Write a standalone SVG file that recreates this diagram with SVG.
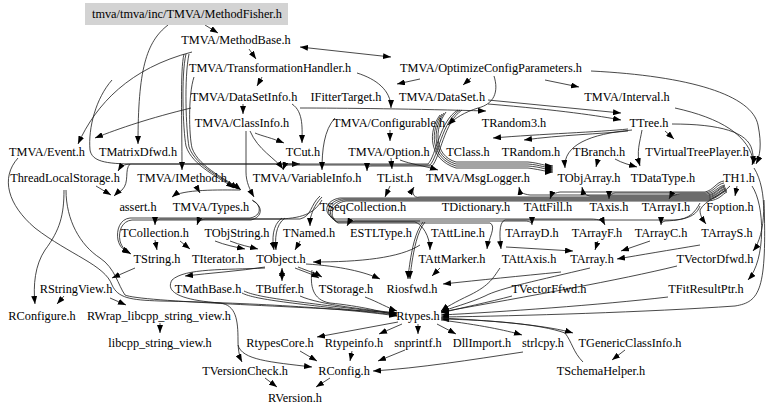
<svg xmlns="http://www.w3.org/2000/svg" width="768" height="414" viewBox="0 0 768 414">
<defs>
<marker id="ah" viewBox="0 0 8 6" markerWidth="8" markerHeight="6" refX="8" refY="3" orient="auto" markerUnits="userSpaceOnUse"><path d="M0,0 L8,3 L0,6 z" fill="#000"/></marker>
<marker id="as" viewBox="0 0 8 6" markerWidth="8" markerHeight="6" refX="8" refY="3" orient="auto-start-reverse" markerUnits="userSpaceOnUse"><path d="M0,0 L8,3 L0,6 z" fill="#000"/></marker>
</defs>
<style>
.e path{fill:none;stroke:#1a1a1a;stroke-width:0.8;marker-end:url(#ah)}
.e path.b{marker-start:url(#as)}
text{font-family:"Liberation Serif","Times New Roman",serif;font-size:12.3px;text-anchor:middle;fill:#000}
</style>
<rect width="768" height="414" fill="#fff"/>
<g class="e" id="edges">
<path d="M205,25 L218,33"/>
<path d="M168,25 C146,42 138,70 138,144"/>
<path d="M249,49 L256,59"/>
<path class="b" d="M300,47 L391,57"/>
<path d="M192,52 C130,68 96,104 78,144"/>
<path d="M184,54 C180,70 182,120 182,170"/>
<path d="M186,54 C181,75 183,130 186,146 C192,166 222,179 234,188"/>
<path d="M189,54 C184,78 186,130 189,147 C196,167 226,180 238,189"/>
<path d="M194,77 C188,95 189,135 192,148 C199,168 230,181 241,190"/>
<path d="M262,77 L257,86"/>
<path d="M357,73 C376,79 391,90 391,108"/>
<path d="M420,79 L397,84"/>
<path d="M471,78 L463,85"/>
<path d="M545,80 L579,87"/>
<path d="M591,71 C690,76 752,95 758,125 C762,145 760,156 756,164"/>
<path d="M243,104 L243,114"/>
<path d="M191,108 C150,118 120,128 95,138"/>
<path d="M292,104 C304,112 302,130 302,143"/>
<path d="M300,108 C340,108 420,109 486,111"/>
<path d="M488,100 L621,113"/>
<path d="M488,104 C560,110 600,116 621,120"/>
<path d="M675,108 C720,118 750,135 754,164"/>
<path d="M672,124 C720,124 748,132 752,150 C754,158 753,162 752,165"/>
<path d="M665,131 L674,139"/>
<path d="M628,129 C600,132 540,134 493,138"/>
<path d="M628,131 C600,134 560,135 524,140"/>
<path d="M632,130 C590,134 563,145 565,168"/>
<path d="M642,130 C640,142 636,152 640,166"/>
<path d="M598,159 L596,167"/>
<path d="M615,159 C622,163 630,165 637,167"/>
<path d="M390,130 L390,141"/>
<path d="M112,80 C96,98 88,128 90,150 C92,161 104,164 135,164 L300,164"/>
<path d="M458,110 C440,120 436,156 428,164 L132,164 C124,164 121,166 118,171"/>
<path d="M460,110 C442,121 438,157 430,165 L290,165 C285,165 284,167 283,170"/>
<path d="M462,110 C444,122 440,158 432,166 L372,166 C368,166 367,168 367,171"/>
<path d="M494,76 C499,92 494,104 478,108 C465,112 455,118 448,125"/>
<path d="M335,118 C324,130 322,150 322,170"/>
<path d="M391,158 L392,169"/>
<path d="M400,160 C410,164 425,166 438,170"/>
<path d="M255,133 C262,136 272,138 284,143"/>
<path d="M250,131 C258,150 275,158 283,169"/>
<path d="M246,131 L246,172 C246,182 250,190 254,197"/>
<path d="M446,112 C434,128 434,156 456,162 L528,162 C540,163 544,166 553,166"/>
<path d="M444,113 C432,129 432,157 456,164 L528,164 C541,165 545,168 553,168"/>
<path d="M442,114 C430,130 430,158 456,166 L528,166 C542,167 546,170 553,170"/>
<path d="M440,115 C428,131 428,159 456,168 L528,168 C543,170 547,172 553,172"/>
<path d="M130,164 C124,170 130,182 122,190 C118,193 116,194 114,196"/>
<path d="M96,186 L111,195"/>
<path d="M196,186 L200,193"/>
<path d="M240,190 C220,190 182,189 172,197"/>
<path d="M390,186 L385,197"/>
<path d="M724,181 C716,182 714,190 705,192 L560,192 C553,193 551,196 550,199"/>
<path d="M724,183 C717,184 715,191 706,193 L615,193 C610,194 609,196 609,199"/>
<path d="M725,185 C718,186 716,192 707,194 L680,194 C672,195 670,197 669,199"/>
<path d="M725,186 C719,187 717,193 708,195 L530,195 C522,194 520,192 519,187"/>
<path d="M725,187 C719,188 717,194 708,196 L590,196 C584,195 583,192 582,187"/>
<path d="M726,188 C720,189 718,195 708,197 L420,197 C412,199 412,190 414,187"/>
<path d="M726,189 C720,190 718,196 708,198 L340,198 C325,200 322,214 335,219 L590,219 C600,219 603,221 605,225"/>
<path d="M727,190 C721,191 719,197 708,199 L342,199 C327,201 324,215 336,221 L525,221 C530,221 532,223 532,225"/>
<path d="M727,191 C721,192 719,198 708,200 L344,200 C329,202 326,216 337,222 L415,222 C422,224 430,236 430,250"/>
<path d="M727,192 C722,194 720,200 708,201 L346,201 C331,203 328,217 338,223 L490,223 C497,226 488,240 487,249"/>
<path d="M700,203 C695,212 690,219 675,220 L505,220 C498,222 500,240 501,249"/>
<path d="M730,186 C722,195 705,200 700,210 C700,216 703,220 706,224"/>
<path d="M700,206 C697,214 690,220 665,221 C662,222 661,223 661,225"/>
<path d="M737,186 L735,196"/>
<path d="M754,168 C768,190 766,235 753,251"/>
<path d="M752,186 C765,205 766,260 748,280"/>
<path d="M252,200 C262,205 262,216 250,218 L130,218 C120,219 116,230 118,240 C120,248 124,250 130,253"/>
<path d="M253,201 C263,206 263,217 251,220 L132,220 C122,221 118,231 120,241 C122,248 126,251 131,254"/>
<path d="M320,196 C310,205 312,216 300,219 L205,219 C200,220 198,222 197,225"/>
<path d="M322,197 C313,206 312,214 310,219 L310,226"/>
<path d="M322,200 C315,212 305,218 280,219 L160,219 C156,220 155,222 155,225"/>
<path d="M420,221 L355,221 C350,222 348,224 347,226"/>
<path d="M155,240 L157,250"/>
<path d="M180,241 L190,249"/>
<path d="M215,241 C225,245 235,247 245,249"/>
<path d="M230,241 C240,245 250,247 258,249"/>
<path d="M300,241 L295,250"/>
<path d="M282,218 C272,225 272,240 274,250"/>
<path d="M285,218 C275,225 275,240 276,250"/>
<path d="M420,245 C400,258 360,262 313,262"/>
<path d="M265,267 C240,271 210,273 185,276"/>
<path class="b" d="M282,268 L282,281"/>
<path d="M295,268 C305,272 312,274 319,278"/>
<path d="M298,267 C308,271 315,273 322,277"/>
<path d="M306,264 C340,266 365,272 380,279"/>
<path d="M265,268 C225,270 185,268 172,280 C165,292 180,300 220,303 C236,305 238,320 238,340 C238,352 240,358 242,362"/>
<path d="M238,345 C242,360 270,362 312,367"/>
<path d="M312,270 C310,285 312,300 330,303 C360,306 385,312 397,316"/>
<path d="M242,293 C255,300 300,304 397,315"/>
<path d="M244,291 C258,298 300,302 397,314"/>
<path d="M300,296 C320,305 370,310 397,313"/>
<path d="M365,297 C378,302 388,308 397,311"/>
<path d="M440,268 L432,276"/>
<path d="M423,222 C415,232 412,250 410,262 C409,270 408,274 408,279"/>
<path d="M425,222 C417,232 414,250 412,262 C411,270 410,274 410,279"/>
<path d="M561,272 C520,276 480,280 443,284"/>
<path d="M500,268 C493,278 490,285 470,295 C455,302 445,308 441,311"/>
<path d="M590,268 C540,280 500,288 485,296 C470,303 450,308 441,312"/>
<path d="M506,247 L573,251"/>
<path d="M598,241 L595,250"/>
<path d="M650,241 L621,251"/>
<path d="M700,245 C670,250 640,255 617,259"/>
<path d="M764,200 C767,290 760,302 735,306 C650,312 520,316 441,317"/>
<path d="M677,266 C620,280 530,296 441,312"/>
<path d="M512,296 C490,302 460,308 441,313"/>
<path d="M668,297 C600,305 500,312 441,315"/>
<path d="M583,362 C573,352 572,342 565,333 C540,324 490,320 441,319"/>
<path d="M441,318 C500,321 550,326 573,333"/>
<path d="M398,322 L317,337"/>
<path d="M402,324 L379,334"/>
<path d="M418,324 L418,334"/>
<path d="M437,324 L456,334"/>
<path d="M441,320 C480,325 505,330 522,335"/>
<path d="M625,350 L612,360"/>
<path d="M300,351 L317,361"/>
<path d="M352,351 L350,361"/>
<path d="M405,350 L378,361"/>
<path d="M523,352 C470,360 420,368 373,371"/>
<path d="M265,378 L277,387"/>
<path d="M330,378 L316,387"/>
<path d="M135,268 L112,278"/>
<path d="M110,298 L126,305"/>
<path d="M160,323 L160,333"/>
<path d="M64,296 L57,304"/>
<path d="M64,190 C64,215 60,230 45,250 C35,265 33,285 35,304"/>
<path d="M18,158 C0,178 8,205 35,228 C70,255 105,265 112,285 C118,298 130,300 160,301 C260,303 350,309 397,316"/>
<path d="M66,190 C66,220 80,245 100,258 C115,268 118,285 125,295 C140,302 300,306 397,313"/>
</g>
<g id="n0"><rect x="85" y="3" width="203" height="22" fill="#d3d3d3"/><text x="187" y="18">tmva/tmva/inc/TMVA/MethodFisher.h</text></g>
<g id="n1"><text x="236" y="44">TMVA/MethodBase.h</text></g>
<g id="n2"><text x="270" y="72">TMVA/TransformationHandler.h</text></g>
<g id="n3"><text x="491" y="72">TMVA/OptimizeConfigParameters.h</text></g>
<g id="n4"><text x="244" y="101">TMVA/DataSetInfo.h</text></g>
<g id="n5"><text x="346" y="101">IFitterTarget.h</text></g>
<g id="n6"><text x="442" y="101">TMVA/DataSet.h</text></g>
<g id="n7"><text x="627" y="101">TMVA/Interval.h</text></g>
<g id="n8"><text x="242" y="127">TMVA/ClassInfo.h</text></g>
<g id="n9"><text x="389" y="127">TMVA/Configurable.h</text></g>
<g id="n10"><text x="514" y="127">TRandom3.h</text></g>
<g id="n11"><text x="649" y="127">TTree.h</text></g>
<g id="n12"><text x="47" y="156">TMVA/Event.h</text></g>
<g id="n13"><text x="138" y="156">TMatrixDfwd.h</text></g>
<g id="n14"><text x="303" y="156">TCut.h</text></g>
<g id="n15"><text x="389" y="156">TMVA/Option.h</text></g>
<g id="n16"><text x="468" y="156">TClass.h</text></g>
<g id="n17"><text x="531" y="156">TRandom.h</text></g>
<g id="n18"><text x="599" y="156">TBranch.h</text></g>
<g id="n19"><text x="697" y="156">TVirtualTreePlayer.h</text></g>
<g id="n20"><text x="65" y="182">ThreadLocalStorage.h</text></g>
<g id="n21"><text x="182" y="182">TMVA/IMethod.h</text></g>
<g id="n22"><text x="307" y="182">TMVA/VariableInfo.h</text></g>
<g id="n23"><text x="395" y="182">TList.h</text></g>
<g id="n24"><text x="478" y="182">TMVA/MsgLogger.h</text></g>
<g id="n25"><text x="589" y="182">TObjArray.h</text></g>
<g id="n26"><text x="663" y="182">TDataType.h</text></g>
<g id="n27"><text x="739" y="182">TH1.h</text></g>
<g id="n28"><text x="138" y="211">assert.h</text></g>
<g id="n29"><text x="211" y="211">TMVA/Types.h</text></g>
<g id="n30"><text x="363" y="211">TSeqCollection.h</text></g>
<g id="n31"><text x="476" y="211">TDictionary.h</text></g>
<g id="n32"><text x="548" y="211">TAttFill.h</text></g>
<g id="n33"><text x="609" y="211">TAxis.h</text></g>
<g id="n34"><text x="666" y="211">TArrayI.h</text></g>
<g id="n35"><text x="730" y="211">Foption.h</text></g>
<g id="n36"><text x="155" y="237">TCollection.h</text></g>
<g id="n37"><text x="237" y="237">TObjString.h</text></g>
<g id="n38"><text x="309" y="237">TNamed.h</text></g>
<g id="n39"><text x="381" y="237">ESTLType.h</text></g>
<g id="n40"><text x="458" y="237">TAttLine.h</text></g>
<g id="n41"><text x="532" y="237">TArrayD.h</text></g>
<g id="n42"><text x="597" y="237">TArrayF.h</text></g>
<g id="n43"><text x="661" y="237">TArrayC.h</text></g>
<g id="n44"><text x="727" y="237">TArrayS.h</text></g>
<g id="n45"><text x="157" y="263">TString.h</text></g>
<g id="n46"><text x="218" y="263">TIterator.h</text></g>
<g id="n47"><text x="281" y="263">TObject.h</text></g>
<g id="n48"><text x="452" y="263">TAttMarker.h</text></g>
<g id="n49"><text x="529" y="263">TAttAxis.h</text></g>
<g id="n50"><text x="592" y="263">TArray.h</text></g>
<g id="n51"><text x="715" y="263">TVectorDfwd.h</text></g>
<g id="n52"><text x="76" y="293">RStringView.h</text></g>
<g id="n53"><text x="208" y="293">TMathBase.h</text></g>
<g id="n54"><text x="280" y="293">TBuffer.h</text></g>
<g id="n55"><text x="346" y="293">TStorage.h</text></g>
<g id="n56"><text x="412" y="293">Riosfwd.h</text></g>
<g id="n57"><text x="549" y="293">TVectorFfwd.h</text></g>
<g id="n58"><text x="706" y="293">TFitResultPtr.h</text></g>
<g id="n59"><text x="42" y="320">RConfigure.h</text></g>
<g id="n60"><text x="159" y="320">RWrap_libcpp_string_view.h</text></g>
<g id="n61"><text x="418" y="320">Rtypes.h</text></g>
<g id="n62"><text x="160" y="347">libcpp_string_view.h</text></g>
<g id="n63"><text x="280" y="347">RtypesCore.h</text></g>
<g id="n64"><text x="354" y="347">Rtypeinfo.h</text></g>
<g id="n65"><text x="418" y="347">snprintf.h</text></g>
<g id="n66"><text x="482" y="347">DllImport.h</text></g>
<g id="n67"><text x="543" y="347">strlcpy.h</text></g>
<g id="n68"><text x="630" y="347">TGenericClassInfo.h</text></g>
<g id="n69"><text x="245" y="375">TVersionCheck.h</text></g>
<g id="n70"><text x="344" y="375">RConfig.h</text></g>
<g id="n71"><text x="601" y="375">TSchemaHelper.h</text></g>
<g id="n72"><text x="295" y="402">RVersion.h</text></g>
</svg>
